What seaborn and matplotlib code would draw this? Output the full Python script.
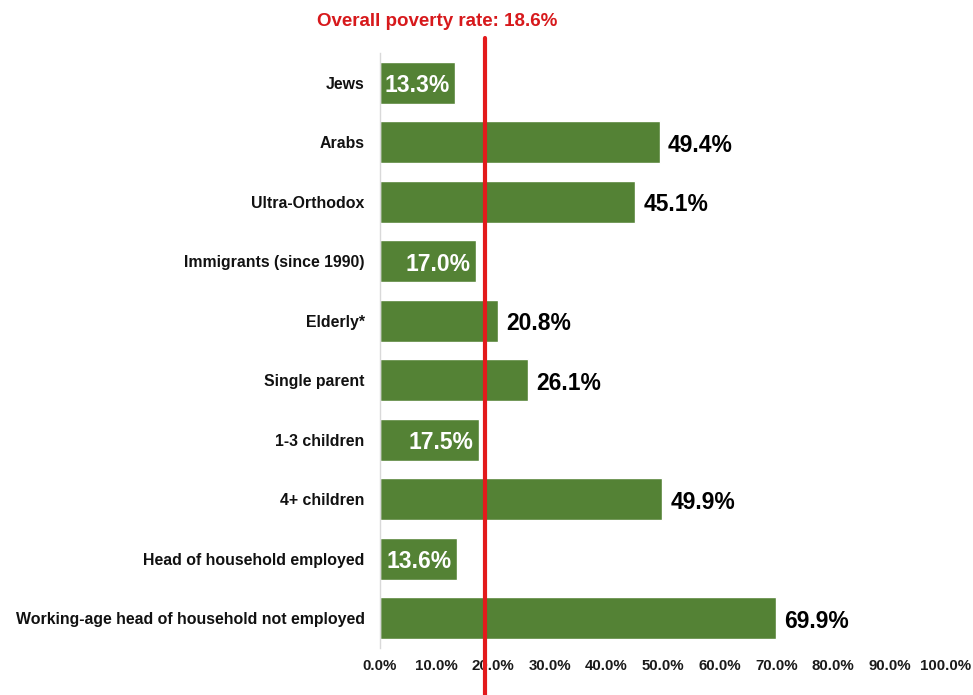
import matplotlib
matplotlib.use("Agg")
import matplotlib.pyplot as plt
import seaborn as sns
import pandas as pd
from matplotlib.ticker import FuncFormatter

categories = ["Jews", "Arabs", "Ultra-Orthodox", "Immigrants (since 1990)", "Elderly*",
              "Single parent", "1-3 children", "4+ children", "Head of household employed",
              "Working-age head of household not employed"]
values = [13.3, 49.4, 45.1, 17.0, 20.8, 26.1, 17.5, 49.9, 13.6, 69.9]
overall = 18.6
xticks = [0, 10, 20, 30, 40, 50, 60, 70, 80, 90, 100]

sns.set_style("white")
plt.rcParams['font.family'] = ['Liberation Sans', 'DejaVu Sans']

df = pd.DataFrame({"cat": categories, "val": values})

fig = plt.figure(figsize=(9.73, 6.95), dpi=100)
ax = fig.add_axes([0.3905, 0.0676, 0.5818, 0.8561])
sns.barplot(data=df, y="cat", x="val", orient="h", color="#548235", saturation=1,
            width=0.7, ax=ax)

ax.set_xlim(0, 100)
ax.set_xticks(xticks)
ax.xaxis.set_major_formatter(FuncFormatter(lambda v, p: f"{v:.1f}%"))
ax.set_xlabel("")
ax.set_ylabel("")
for lab in ax.get_xticklabels():
    lab.set_fontweight("bold")
    lab.set_fontsize(10.8)
    lab.set_color("#1a1a1a")
for lab in ax.get_yticklabels():
    lab.set_fontweight("bold")
    lab.set_fontsize(11.4)
    lab.set_color("#111111")
ax.tick_params(axis="x", length=0, pad=8)
ax.tick_params(axis="y", length=0, pad=11)

for s in ["top", "right", "bottom"]:
    ax.spines[s].set_visible(False)
ax.spines["left"].set_color("#d9d9d9")
ax.spines["left"].set_linewidth(1)

for i, v in enumerate(values):
    if v < overall:
        ax.text(v - 1.0, i + 0.05, f"{v:.1f}%", ha="right", va="center",
                color="white", fontsize=16.5, fontweight="bold")
    else:
        ax.text(v + 1.5, i + 0.05, f"{v:.1f}%", ha="left", va="center",
                color="black", fontsize=16.5, fontweight="bold")

ax.axvline(overall, ymin=-0.08, ymax=1.025, color="#e31a1c", linewidth=3,
           clip_on=False, zorder=5)

fig.text(437 / 973, 1 - 22 / 695, f"Overall poverty rate: {overall}%", ha="center",
         va="center", color="#d7191c", fontsize=13.5, fontweight="bold")

fig.savefig("out.png", dpi=100, facecolor="white")
